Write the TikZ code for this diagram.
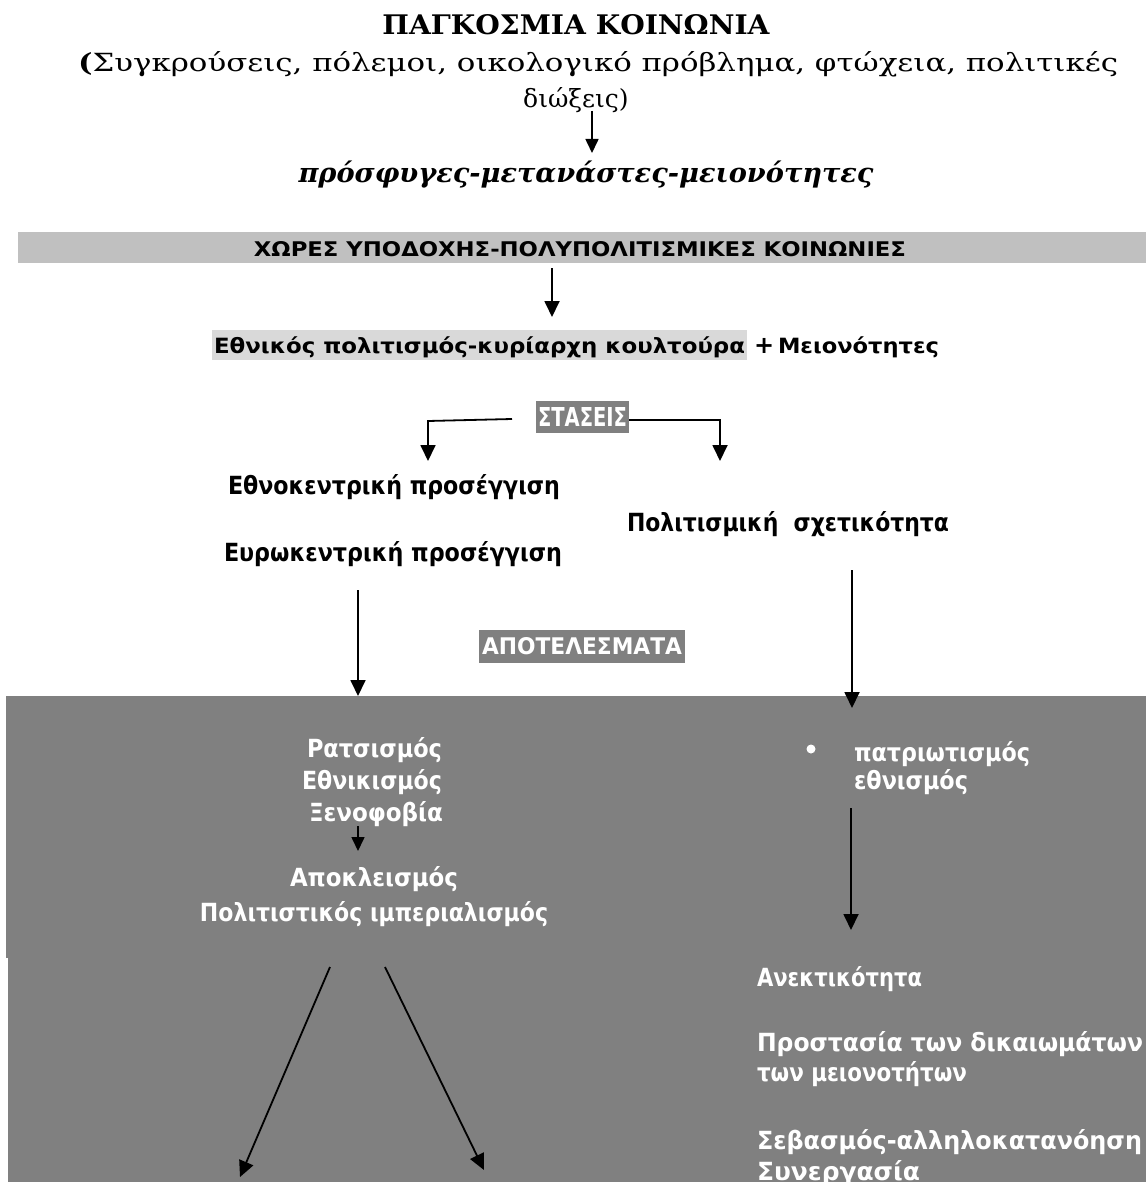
\documentclass[tikz,border=0pt]{standalone}
\usepackage{fontspec}
\usepackage{graphicx}
\setmainfont{DejaVu Serif}
\newfontfamily\gothic{DejaVu Sans}
\usetikzlibrary{arrows.meta}
\definecolor{bandgray}{HTML}{C0C0C0}
\definecolor{hlgray}{HTML}{D9D9D9}
\definecolor{darkgray}{HTML}{808080}
\newcommand{\fitw}[2]{\resizebox{#1}{\height}{#2}}
\newcommand{\fitwh}[3]{\resizebox{#1}{#2}{#3}}
\begin{document}
\begin{tikzpicture}[x=1pt,y=-1pt,
  txt/.style={inner sep=0pt, outer sep=0pt},
  body/.style={txt, font=\gothic\bfseries\fontsize{25}{28}\selectfont},
  wbody/.style={body, text=white},
  cond/.style={txt, font=\gothic\bfseries\fontsize{21}{24}\selectfont},
  serif/.style={txt, font=\fontsize{25}{30}\selectfont},
  arr/.style={-{Triangle[width=15pt,length=16pt]}, line width=1.8pt, black},
  sarr/.style={-{Triangle[width=13pt,length=14pt]}, line width=1.6pt, black},
  boxfill/.style={inner sep=0pt, outer sep=0pt, draw=none}
]
\useasboundingbox (0,0) rectangle (1146,1182);
\fill[white] (0,0) rectangle (1146,1182);

% ---- title block ----
\node[txt, anchor=base] (title) at (576,35)
  {\fitwh{387pt}{20pt}{\bfseries ΠΑΓΚΟΣΜΙΑ ΚΟΙΝΩΝΙΑ}};
\node[serif, anchor=base west] (sub1) at (78,72)
  {\fitw{1040pt}{\textbf{(}Συγκρούσεις, πόλεμοι, οικολογικό πρόβλημα, φτώχεια, πολιτικές}};
\node[serif, anchor=base] (sub2) at (576,108) {διώξεις)};
\node[txt, anchor=base] (refugees) at (586,183)
  {\fitw{575pt}{\fontsize{27}{30}\selectfont\bfseries\itshape πρόσφυγες-μετανάστες-μειονότητες}};
\coordinate (a1s) at (592,111);
\coordinate (a1e) at (592,153);
\draw[sarr] (a1s) -- (a1e);

% ---- host countries band ----
\node[boxfill, fill=bandgray, minimum width=1128pt, minimum height=31pt] (band) at (582,247.5) {};
\node[txt, anchor=base] (bandtxt) at (580,256)
  {\fitwh{652pt}{15pt}{\gothic\bfseries ΧΩΡΕΣ ΥΠΟΔΟΧΗΣ-ΠΟΛΥΠΟΛΙΤΙΣΜΙΚΕΣ ΚΟΙΝΩΝΙΕΣ}};
\coordinate (a2s) at (552,268);
\coordinate (a2e) at (552,317);
\draw[arr] (a2s) -- (a2e);

% ---- national culture line ----
\node[boxfill, fill=hlgray, minimum width=535pt, minimum height=30pt] (hlbox) at (479.5,345) {};
\node[cond, anchor=base west] (natcult) at (214,353)
  {\fitw{531pt}{Εθνικός πολιτισμός-κυρίαρχη κουλτούρα}};
\node[txt, anchor=base west, font=\gothic\bfseries\fontsize{24}{26}\selectfont] (plus) at (754,353) {+};
\node[cond, anchor=base west] (minor) at (778,353)
  {\fitw{161pt}{Μειονότητες}};

% ---- ΣΤΑΣΕΙΣ ----
\node[boxfill, fill=darkgray, minimum width=93pt, minimum height=32pt] (staseis) at (582.5,417)
  {\fitwh{89pt}{19pt}{\gothic\bfseries\color{white}ΣΤΑΣΕΙΣ}};
\coordinate (l0) at (512,419);
\coordinate (l1) at (428,421);
\coordinate (l2) at (428,461);
\coordinate (r1) at (720,420);
\coordinate (r2) at (720,461);
\draw[arr] (l0) -- (l1) -- (l2);
\draw[arr] (staseis.east |- r1) -- (r1) -- (r2);

% ---- attitudes ----
\node[body, anchor=base west] (ethno) at (228,494)
  {\fitw{332pt}{Εθνοκεντρική προσέγγιση}};
\node[body, anchor=base west] (euro) at (224,561)
  {\fitw{338pt}{Ευρωκεντρική προσέγγιση}};
\node[body, anchor=base] (relat) at (788,531)
  {\fitw{322pt}{Πολιτισμική\ \ σχετικότητα}};

% ---- ΑΠΟΤΕΛΕΣΜΑΤΑ ----
\node[boxfill, fill=darkgray, minimum width=206pt, minimum height=33pt] (apot) at (582,646.5)
  {\fitwh{200pt}{17pt}{\gothic\bfseries\color{white}ΑΠΟΤΕΛΕΣΜΑΤΑ}};

% ---- results area ----
\fill[darkgray] (6,696) rectangle (1146,958);
\fill[darkgray] (8,957) rectangle (1146,1182);

\coordinate (la1) at (358,590);
\coordinate (la2) at (358,696);
\draw[arr] (la1) -- (la2);
\coordinate (ra1) at (852,570);
\coordinate (ra2) at (852,708);
\draw[arr] (ra1) -- (ra2);

% left column
\node[wbody, anchor=base] (rats) at (374.5,757) {\fitw{135pt}{Ρατσισμός}};
\node[wbody, anchor=base] (ethnik) at (372,789) {\fitw{140pt}{Εθνικισμός}};
\node[wbody, anchor=base] (xeno) at (376,821) {\fitw{134pt}{Ξενοφοβία}};
\coordinate (xa1) at (358,826);
\coordinate (xa2) at (358,851);
\draw[sarr] (xa1) -- (xa2);
\node[wbody, anchor=base] (apokl) at (374,886) {\fitw{168pt}{Αποκλεισμός}};
\node[wbody, anchor=base] (imper) at (374,921) {\fitw{348pt}{Πολιτιστικός ιμπεριαλισμός}};
\coordinate (d1s) at (330,967);
\coordinate (d1e) at (240,1177);
\coordinate (d2s) at (385,967);
\coordinate (d2e) at (484,1170);
\draw[arr] (d1s) -- (d1e);
\draw[arr] (d2s) -- (d2e);

% right column
\node[circle, fill=white, inner sep=0pt, minimum size=9pt] (bullet) at (811,749) {};
\node[wbody, anchor=base west] (patr) at (854,761) {\fitw{176pt}{πατριωτισμός}};
\node[wbody, anchor=base west] (ethnism) at (854,789) {\fitw{114pt}{εθνισμός}};
\coordinate (pa1) at (851,808);
\coordinate (pa2) at (851,930);
\draw[arr] (pa1) -- (pa2);
\node[wbody, anchor=base west] (anekt) at (757,986) {\fitw{165pt}{Ανεκτικότητα}};
\node[wbody, anchor=base west] (prost) at (757,1051) {\fitw{386pt}{Προστασία των δικαιωμάτων}};
\node[wbody, anchor=base west] (meion) at (757,1081) {\fitw{210pt}{των μειονοτήτων}};
\node[wbody, anchor=base west] (sevas) at (757,1149) {\fitw{385pt}{Σεβασμός-αλληλοκατανόηση}};
\node[wbody, anchor=base west] (synerg) at (757,1180) {\fitw{163pt}{Συνεργασία}};
\end{tikzpicture}
\end{document}
